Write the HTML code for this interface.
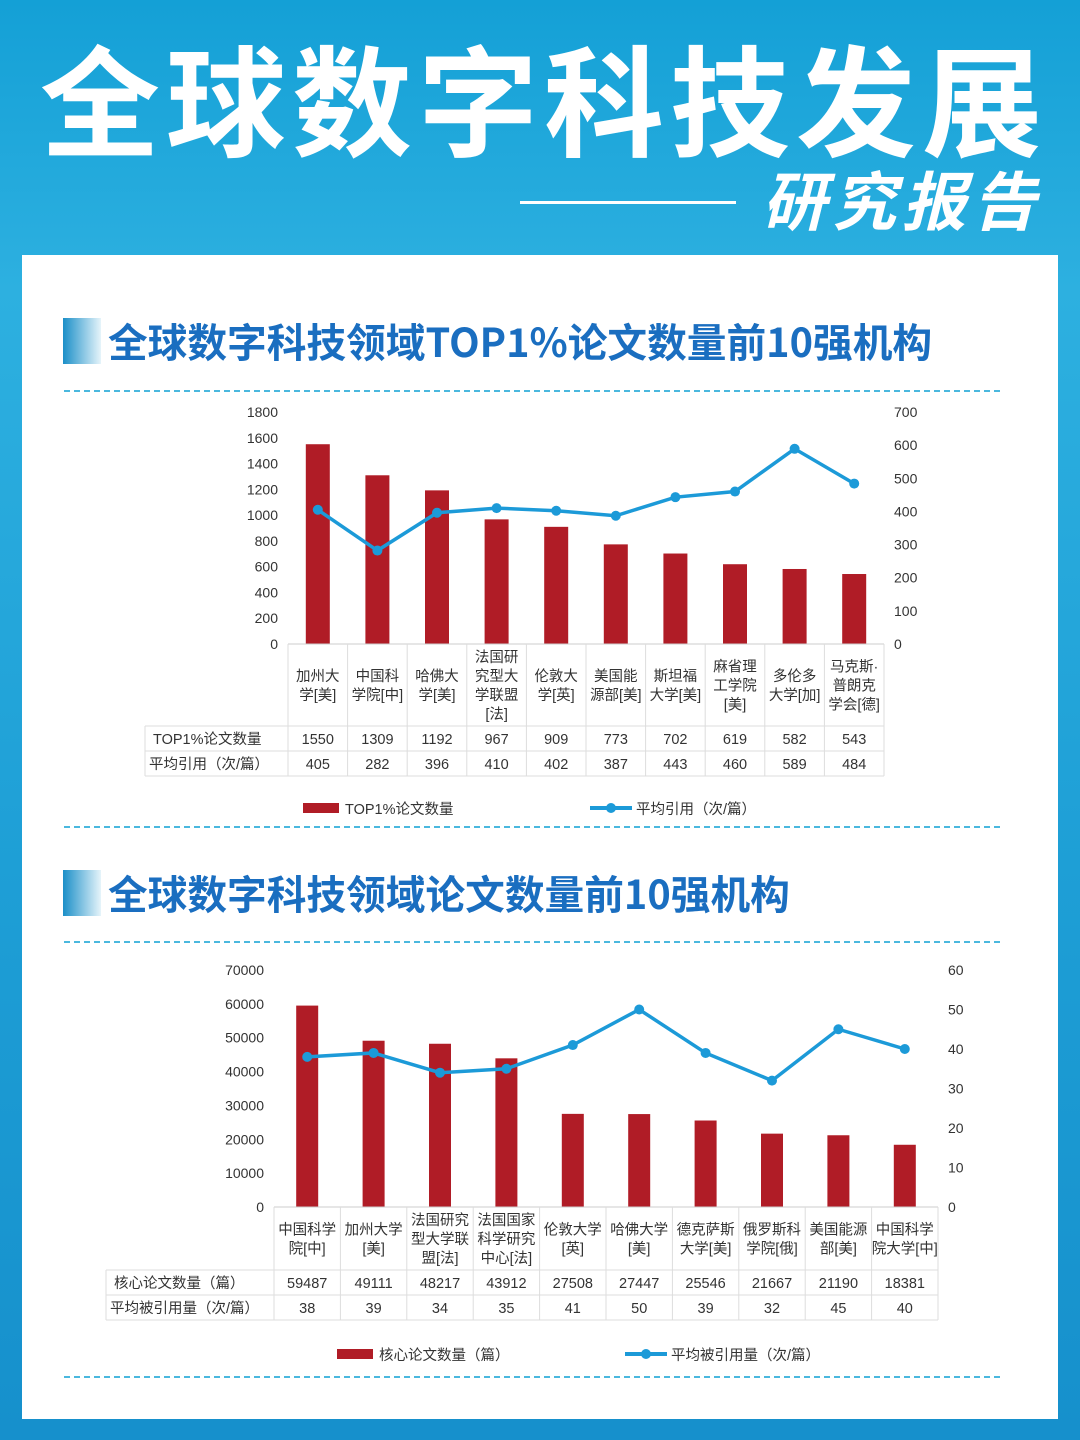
<!DOCTYPE html>
<html><head><meta charset="utf-8">
<style>
body{margin:0;width:1080px;height:1440px;overflow:hidden;font-family:"Liberation Sans","Noto Sans CJK SC",sans-serif;}
#bg{position:absolute;left:0;top:0;width:1080px;height:1440px;background:linear-gradient(180deg,#14a0d6 0%,#2db0e0 20%,#1e9fd6 60%,#1690cc 100%);}
#title{position:absolute;left:40px;top:8px;font-size:120px;font-weight:bold;color:#fff;letter-spacing:6px;white-space:nowrap;font-family:"Noto Sans CJK SC",sans-serif;}
#sub{position:absolute;left:762px;top:152px;font-size:64px;font-weight:bold;color:#fff;letter-spacing:6px;font-family:"Noto Sans CJK SC",sans-serif;font-style:italic;}
#subline{position:absolute;left:520px;top:201px;width:216px;height:3px;background:#fff;}
#card{position:absolute;left:22px;top:255px;width:1036px;height:1164px;background:#fff;}
.h{position:absolute;font-size:39.7px;font-weight:bold;color:#1a6ec0;font-family:"Noto Sans CJK SC",sans-serif;white-space:nowrap;}
.acc{position:absolute;width:38px;height:46px;background:linear-gradient(90deg,#1b8fc8,#e6f4fa);}
.dash{position:absolute;left:64px;width:936px;border-top:2px dashed #4ab8de;}
svg{position:absolute;left:0;top:0}
</style></head><body>
<div id="bg"></div>
<div id="title">全球数字科技发展</div>
<div id="subline"></div>
<div id="sub">研究报告</div>
<div id="card"></div>
<div class="acc" style="left:63px;top:318px"></div>
<div class="h" style="left:108px;top:312px">全球数字科技领域TOP1%论文数量前10强机构</div>
<div class="dash" style="top:390px"></div>
<div class="dash" style="top:826px"></div>
<div class="acc" style="left:63px;top:870px"></div>
<div class="h" style="left:108px;top:864px">全球数字科技领域论文数量前10强机构</div>
<div class="dash" style="top:941px"></div>
<div class="dash" style="top:1376px"></div>
<svg id="svg" width="1080" height="1440"></svg>
<script>
const cats1=["加州大|学[美]","中国科|学院[中]","哈佛大|学[美]","法国研|究型大|学联盟|[法]","伦敦大|学[英]","美国能|源部[美]","斯坦福|大学[美]","麻省理|工学院|[美]","多伦多|大学[加]","马克斯·|普朗克|学会[德]"];
const papers1=[1550,1309,1192,967,909,773,702,619,582,543];
const cites1=[405,282,396,410,402,387,443,460,589,484];
const leftTicks1=[0,200,400,600,800,1000,1200,1400,1600,1800];
const rightTicks1=[0,100,200,300,400,500,600,700];
const cats2=["中国科学|院[中]","加州大学|[美]","法国研究|型大学联|盟[法]","法国国家|科学研究|中心[法]","伦敦大学|[英]","哈佛大学|[美]","德克萨斯|大学[美]","俄罗斯科|学院[俄]","美国能源|部[美]","中国科学|院大学[中]"];
const papers2=[59487,49111,48217,43912,27508,27447,25546,21667,21190,18381];
const cites2=[38,39,34,35,41,50,39,32,45,40];
const leftTicks2=[0,10000,20000,30000,40000,50000,60000,70000];
const rightTicks2=[0,10,20,30,40,50,60];
const NS="http://www.w3.org/2000/svg";
const svg=document.getElementById('svg');
function mk(t,a,txt){const e=document.createElementNS(NS,t);for(const k in a)e.setAttribute(k,a[k]);if(txt!==undefined)e.textContent=txt;svg.appendChild(e);return e;}
function chart(o){
 const n=o.cats.length,cw=(o.x1-o.x0)/n;
 const yl=v=>o.y0-(v/o.lmax)*(o.y0-o.ytop);
 const yr=v=>o.y0-(v/o.rmax)*(o.y0-o.ytop);
 const cx=i=>o.x0+cw*(i+0.5);
 o.lt.forEach(v=>{const t=mk('text',{x:o.x0-10,y:yl(v)+5,'text-anchor':'end','font-size':14,fill:'#333'},String(v));});
 o.rt.forEach(v=>{const t=mk('text',{x:o.x1+10,y:yr(v)+5,'font-size':14,fill:'#333'},String(v));});
 o.bars.forEach((v,i)=>{const r=mk('rect',{x:cx(i)-o.bw/2,y:yl(v),width:o.bw,height:o.y0-yl(v),fill:'#b01c26'});});
 const p=mk('polyline',{points:o.line.map((v,i)=>cx(i)+','+yr(v)).join(' '),fill:'none',stroke:'#1c9ad8','stroke-width':3.5});
 
 o.line.forEach((v,i)=>{const c=mk('circle',{cx:cx(i),cy:yr(v),r:5,fill:'#1c9ad8'});});
 const g='#ddd';
 const hb=o.y0,r1=o.r1,r2=r1+25,r3=r2+25;
 mk('line',{x1:o.x0,y1:hb,x2:o.x1,y2:hb,stroke:'#ccc'});
 mk('line',{x1:o.tl,y1:r1,x2:o.x1,y2:r1,stroke:g});
 mk('line',{x1:o.tl,y1:r2,x2:o.x1,y2:r2,stroke:g});
 mk('line',{x1:o.tl,y1:r3,x2:o.x1,y2:r3,stroke:g});
 mk('line',{x1:o.tl,y1:r1,x2:o.tl,y2:r3,stroke:g});
 for(let i=0;i<=n;i++)mk('line',{x1:o.x0+cw*i,y1:hb,x2:o.x0+cw*i,y2:r3,stroke:g});
 o.cats.forEach((c,i)=>{const ls=c.split('|');const h=ls.length*19;const st=(hb+r1)/2-h/2+15;
  ls.forEach((l,k)=>{const t=mk('text',{x:cx(i),y:st+k*19,'text-anchor':'middle','font-size':14.5,fill:'#333'},l);});});
 mk('text',{x:o.tl+8,y:r1+18,'font-size':14.5,fill:'#333'},o.n1);
 mk('text',{x:o.tl+4,y:r2+18,'font-size':14.5,fill:'#333'},o.n2);
 o.bars.forEach((v,i)=>{const t=mk('text',{x:cx(i),y:r1+18,'text-anchor':'middle','font-size':14.5,fill:'#333'},String(v));});
 o.line.forEach((v,i)=>{const t=mk('text',{x:cx(i),y:r2+18,'text-anchor':'middle','font-size':14.5,fill:'#333'},String(v));});
 const lr=mk('rect',{x:o.lg1,y:o.ly-5,width:36,height:10,fill:'#b01c26'});
 mk('text',{x:o.lg1+42,y:o.ly+6,'font-size':14.5,fill:'#333'},o.n1);
 mk('line',{x1:o.lg2,y1:o.ly,x2:o.lg2+42,y2:o.ly,stroke:'#1c9ad8','stroke-width':4});
 mk('circle',{cx:o.lg2+21,cy:o.ly,r:5,fill:'#1c9ad8'});
 mk('text',{x:o.lg2+46,y:o.ly+6,'font-size':14.5,fill:'#333'},o.n2);
}
chart({cats:cats1,bars:papers1,line:cites1,lt:leftTicks1,rt:rightTicks1,lmax:1800,rmax:700,x0:288,x1:884,y0:644,ytop:412,bw:24,tl:145,r1:726,n1:'TOP1%论文数量',n2:'平均引用（次/篇）',lg1:303,lg2:590,ly:808});
chart({cats:cats2,bars:papers2,line:cites2,lt:leftTicks2,rt:rightTicks2,lmax:70000,rmax:60,x0:274,x1:938,y0:1207,ytop:970,bw:22,tl:106,r1:1270,n1:'核心论文数量（篇）',n2:'平均被引用量（次/篇）',lg1:337,lg2:625,ly:1354});
</script>
</body></html>
